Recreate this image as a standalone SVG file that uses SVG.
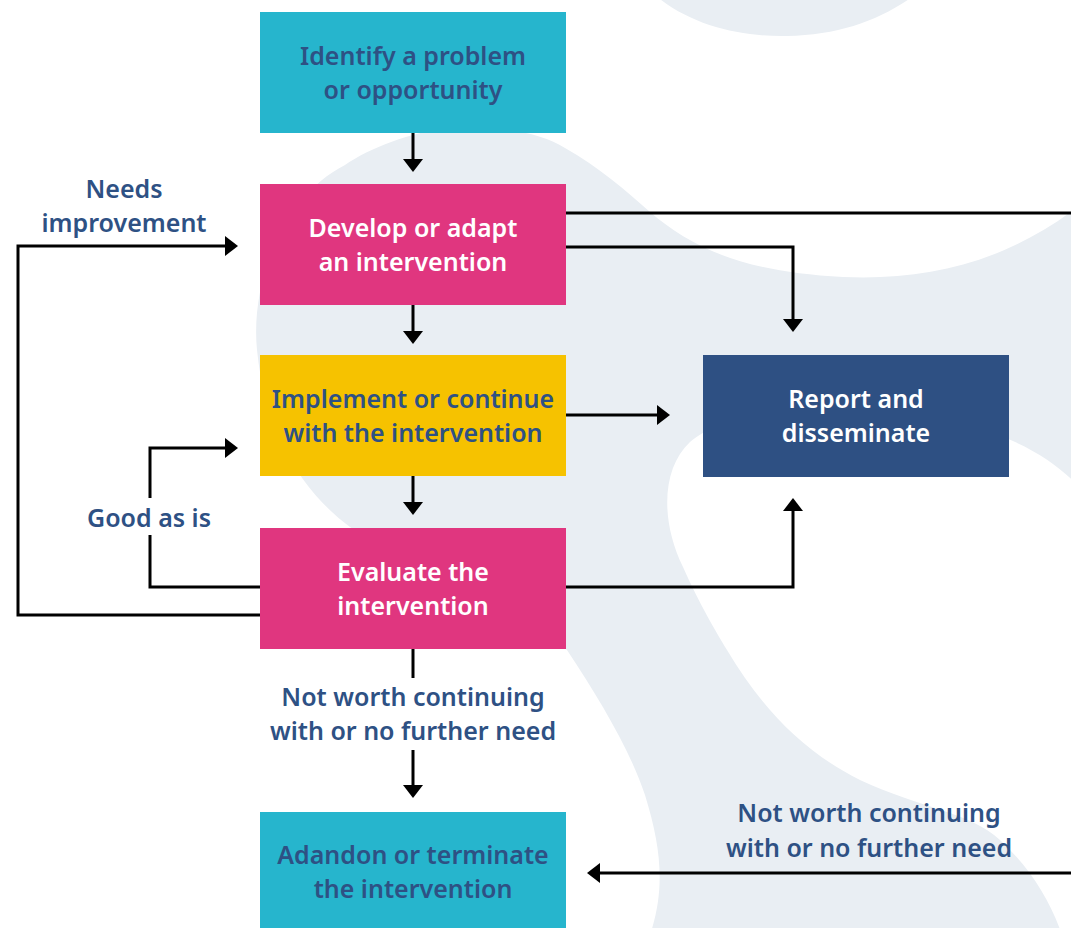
<svg xmlns="http://www.w3.org/2000/svg" width="1071" height="928" viewBox="0 0 1071 928">
<style>
  text { font-family: "Noto Sans", "Open Sans", "DejaVu Sans", sans-serif; font-size: 25px; font-weight: 600; text-anchor: middle; }
  .dark { fill: #2e5184; }
  .light { fill: #ffffff; }
  .cyan { fill: #26b5cd; }
  .pink { fill: #e0367f; }
  .yellow { fill: #f6c200; }
  .navy { fill: #2e5083; }
  .conn { fill: none; stroke: #000; stroke-width: 3; marker-end: url(#arrow); }
  .plain { fill: none; stroke: #000; stroke-width: 3; }
</style>
<defs>
  <marker id="arrow" markerUnits="userSpaceOnUse" markerWidth="14" markerHeight="20" refX="1" refY="10" orient="auto" overflow="visible">
    <path d="M0,0 L13,10 L0,20 Z" fill="#000"/>
  </marker>
</defs>
<rect width="1071" height="928" fill="#ffffff"/>
<g id="background" fill="#e9eef3">
  <path d="M655,-5 C690,25 740,37 787,36 C840,35 880,20 915,-5 Z"/>
  <path d="M450,128 C500,126 540,132 565,148 C600,168 625,190 650,212 C690,246 740,272 843,277 C930,281 1010,260 1080,205 L1080,488 C1050,455 1000,425 900,412 C800,400 720,415 690,442 C662,468 660,520 683,567 C700,605 715,630 727,650 C760,705 800,750 860,780 C920,808 970,812 1000,840 C1030,868 1050,900 1062,935 L650,935 C665,890 662,850 645,795 C630,750 600,700 567,650 C500,580 400,560 350,527 C300,490 265,430 257,350 C250,280 285,195 345,165 C370,148 410,132 450,128 Z"/>
</g>
<g id="connectors">
  <line class="conn" x1="413" y1="133" x2="413" y2="160"/>
  <line class="conn" x1="413" y1="305" x2="413" y2="332"/>
  <line class="conn" x1="413" y1="476" x2="413" y2="503"/>
  <line class="conn" x1="566" y1="415" x2="658" y2="415"/>
  <line class="plain" x1="566" y1="213" x2="1075" y2="213"/>
  <polyline class="conn" points="566,247 793,247 793,320"/>
  <polyline class="conn" points="566,587 793,587 793,510"/>
  <polyline class="conn" points="260,615 18,615 18,246 226,246"/>
  <polyline class="plain" points="260,587 150,587 150,535"/>
  <polyline class="conn" points="150,498 150,448 226,448"/>
  <line class="plain" x1="413" y1="649" x2="413" y2="678"/>
  <line class="conn" x1="413" y1="750" x2="413" y2="786"/>
  <line class="conn" x1="1075" y1="873" x2="599" y2="873"/>
</g>
<g id="label-needs-improvement">
  <text class="dark" x="124" y="198">Needs</text>
  <text class="dark" x="124" y="232">improvement</text>
</g>
<g id="label-good-as-is">
  <text class="dark" x="149" y="527">Good as is</text>
</g>
<g id="label-not-worth-1">
  <text class="dark" x="413" y="706">Not worth continuing</text>
  <text class="dark" x="413" y="740">with or no further need</text>
</g>
<g id="label-not-worth-2">
  <text class="dark" x="869" y="822">Not worth continuing</text>
  <text class="dark" x="869" y="857">with or no further need</text>
</g>
<g id="node-identify">
  <rect class="cyan" x="260" y="12" width="306" height="121"/>
  <text class="dark" x="413" y="65">Identify a problem</text>
  <text class="dark" x="413" y="99">or opportunity</text>
</g>
<g id="node-develop">
  <rect class="pink" x="260" y="184" width="306" height="121"/>
  <text class="light" x="413" y="237">Develop or adapt</text>
  <text class="light" x="413" y="271">an intervention</text>
</g>
<g id="node-implement">
  <rect class="yellow" x="260" y="355" width="306" height="121"/>
  <text class="dark" x="413" y="408">Implement or continue</text>
  <text class="dark" x="413" y="442">with the intervention</text>
</g>
<g id="node-evaluate">
  <rect class="pink" x="260" y="528" width="306" height="121"/>
  <text class="light" x="413" y="581">Evaluate the</text>
  <text class="light" x="413" y="615">intervention</text>
</g>
<g id="node-report">
  <rect class="navy" x="703" y="355" width="306" height="122"/>
  <text class="light" x="856" y="408">Report and</text>
  <text class="light" x="856" y="442">disseminate</text>
</g>
<g id="node-abandon">
  <rect class="cyan" x="260" y="812" width="306" height="120"/>
  <text class="dark" x="413" y="864">Adandon or terminate</text>
  <text class="dark" x="413" y="898">the intervention</text>
</g>
</svg>
